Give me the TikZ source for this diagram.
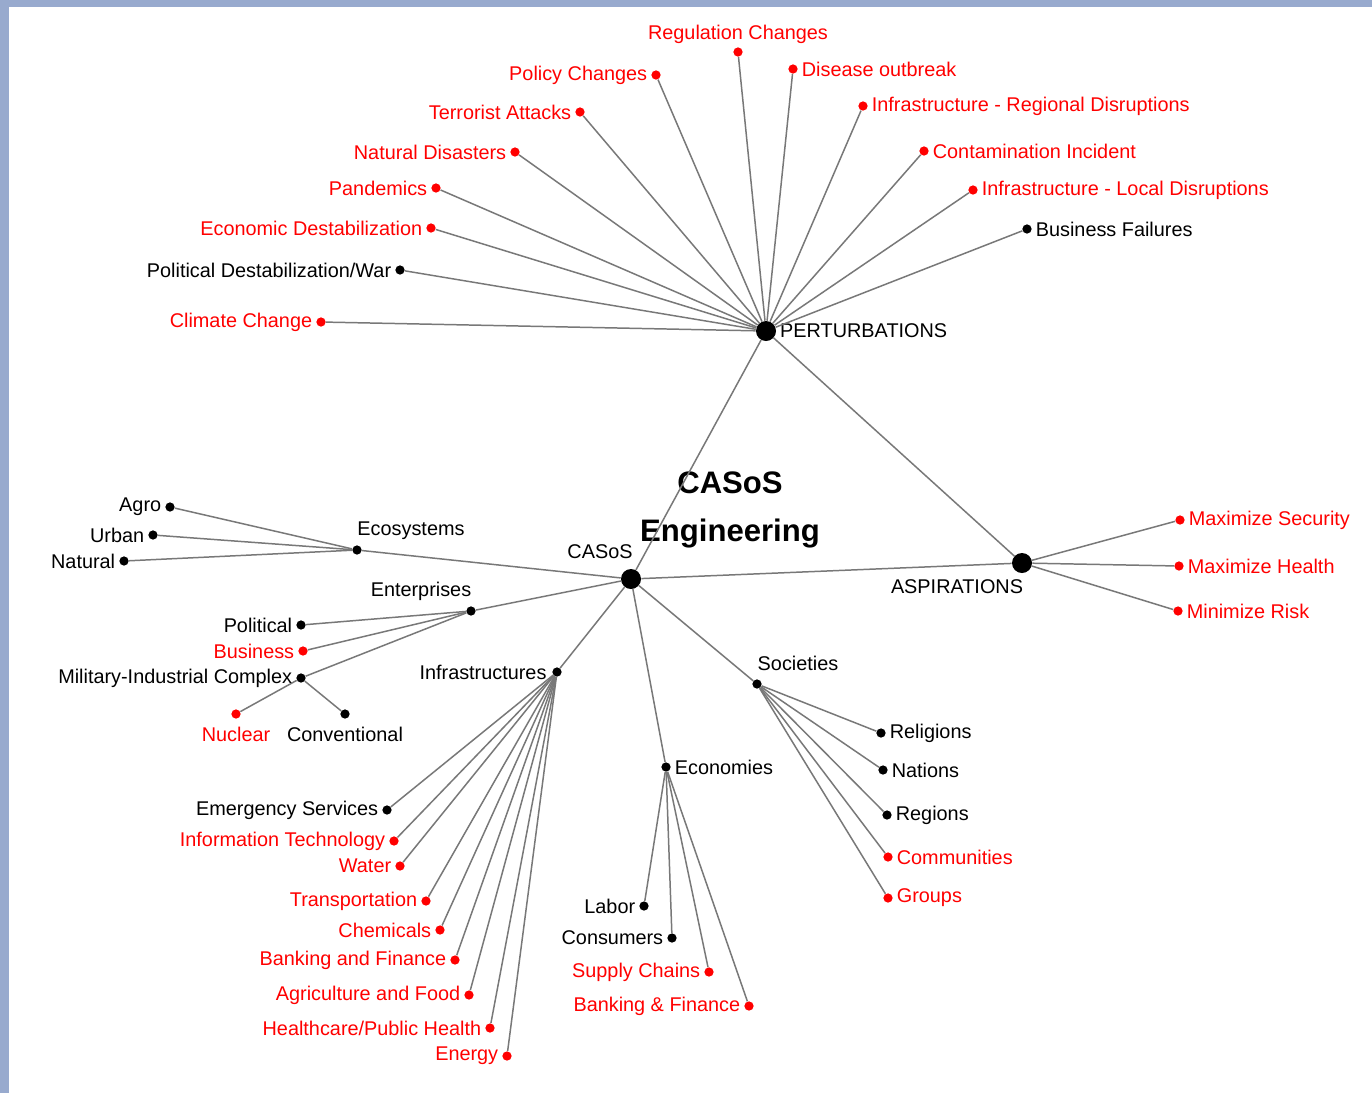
\documentclass[tikz,border=0pt]{standalone}
\usepackage{fontspec}
\setmainfont{Liberation Sans}
\definecolor{slideblue}{RGB}{152,170,206}
\definecolor{lnkgray}{RGB}{120,120,120}
\tikzset{leaf/.style={circle,fill=black,inner sep=0pt,minimum size=0.185cm},
  hub/.style={circle,fill=black,inner sep=0pt,minimum size=0.4cm},
  lnk/.style={draw=lnkgray,line width=0.85pt},
  every label/.style={inner sep=2pt},
  headline/.style={align=center,font=\fontsize{17.7}{27}\selectfont\bfseries}}

\begin{document}
\begin{tikzpicture}[x=0.02cm,y=-0.02cm,font=\fontsize{11.3}{13.5}\selectfont]
\useasboundingbox (0,0) rectangle (1372,1093);
\fill[slideblue] (0,0) rectangle (1372,1093);
\fill[white] (9,7) rectangle (1372,1093);

\node[hub] (pert) at (766,331) {};
\node[hub] (casos) at (631,579) {};
\node[hub] (asp) at (1022,563) {};
\node[anchor=west,inner sep=2pt] (pertT) at (pert.east) {PERTURBATIONS};
\node (casosT) at (600,552) {CASoS};
\node (aspT) at (957,587) {ASPIRATIONS};
\node[headline] (title) at (730,510) {CASoS\\Engineering};
\draw[lnk] (pert) -- (casos);
\draw[lnk] (pert) -- (asp);
\draw[lnk] (casos) -- (asp);

\foreach \n/\x/\y in {eco/357/550,ent/471/611,inf/557/672,econ/666/767,soc/757/684}{
  \node[leaf] (\n) at (\x,\y) {};
  \draw[lnk] (casos) -- (\n);
}
\node (ecoT) at (411,531) {Ecosystems};
\node (entT) at (421,591) {Enterprises};
\node (infT) at (483,672) {Infrastructures};
\node[anchor=west,inner sep=2pt] (econT) at (econ.east) {Economies};
\node (socT) at (798,663) {Societies};

\node[leaf] (mic) at (301,678) {};
\node[leaf,fill=red,label={[text=red,yshift=-2.5pt]below:Nuclear}] (nuc) at (236,714) {};
\node[leaf,label={[yshift=-2.5pt]below:Conventional}] (conv) at (345,714) {};
\draw[lnk] (ent) -- (mic);
\draw[lnk] (mic) -- (nuc);
\draw[lnk] (mic) -- (conv);
\node[anchor=east,inner sep=2pt] (micT) at (mic.west) {Military-Industrial Complex};

\foreach \p/\x/\y/\t/\c/\s [count=\i] in {
  pert/738/52/Regulation Changes/red/above,
  pert/656/75/Policy Changes/red/left,
  pert/793/69/Disease outbreak/red/right,
  pert/580/112/Terrorist Attacks/red/left,
  pert/863/106/Infrastructure - Regional Disruptions/red/right,
  pert/515/152/Natural Disasters/red/left,
  pert/924/151/Contamination Incident/red/right,
  pert/436/188/Pandemics/red/left,
  pert/973/190/Infrastructure - Local Disruptions/red/right,
  pert/431/228/Economic Destabilization/red/left,
  pert/1027/229/Business Failures/black/right,
  pert/400/270/{Political Destabilization/War}/black/left,
  pert/321/322/Climate Change/red/left,
  asp/1180/520/Maximize Security/red/right,
  asp/1179/566/Maximize Health/red/right,
  asp/1178/611/Minimize Risk/red/right,
  eco/170/507/Agro/black/left,
  eco/153/535/Urban/black/left,
  eco/124/561/Natural/black/left,
  ent/301/625/Political/black/left,
  ent/303/651/Business/red/left,
  inf/387/810/Emergency Services/black/left,
  inf/394/841/Information Technology/red/left,
  inf/400/866/Water/red/left,
  inf/426/901/Transportation/red/left,
  inf/440/930/Chemicals/red/left,
  inf/455/960/Banking and Finance/red/left,
  inf/469/995/Agriculture and Food/red/left,
  inf/490/1028/{Healthcare/Public Health}/red/left,
  inf/507/1056/Energy/red/left,
  econ/644/906/Labor/black/left,
  econ/672/938/Consumers/black/left,
  econ/709/972/Supply Chains/red/left,
  econ/749/1006/Banking \& Finance/red/left,
  soc/881/733/Religions/black/right,
  soc/883/770/Nations/black/right,
  soc/887/815/Regions/black/right,
  soc/888/857/Communities/red/right,
  soc/888/898/Groups/red/right}{
  \node[leaf,fill=\c,label={[text=\c]\s:\t}] (n\i) at (\x,\y) {};
  \draw[lnk] (\p) -- (n\i);
}
\end{tikzpicture}
\end{document}
